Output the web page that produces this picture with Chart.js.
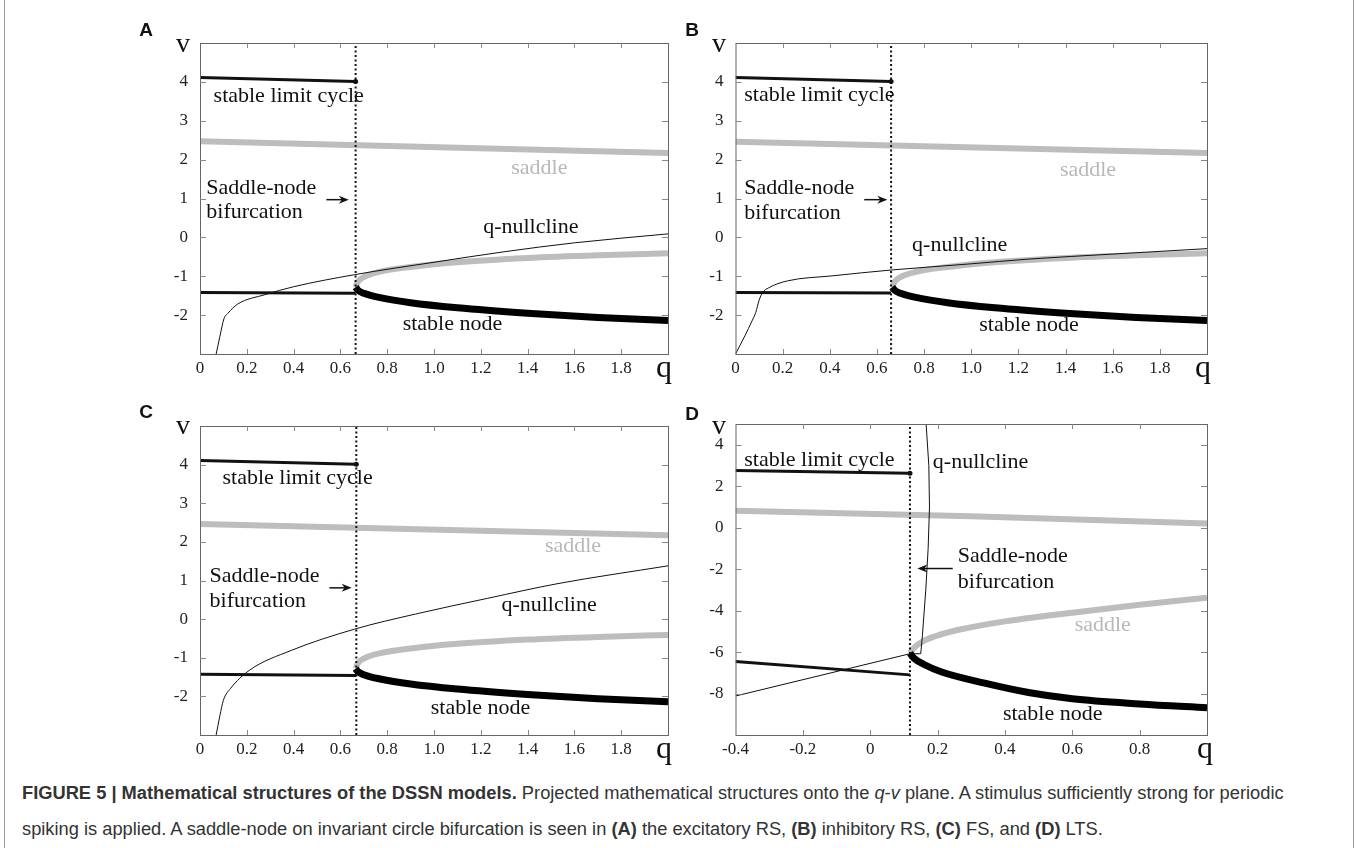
<!DOCTYPE html>
<html>
<head>
<meta charset="utf-8">
<script src="https://cdn.jsdelivr.net/npm/chart.js@4.4.1/dist/chart.umd.min.js"></script>
<style>
  body { margin: 0; background: #fff; width: 1357px; height: 848px; position: relative; overflow: hidden; }
  canvas { position: absolute; }
  .lbl { position: absolute; transform: translate(-50%, -50%); white-space: nowrap; color: #111; }
  .panel { font-family: "Liberation Sans", Arial, sans-serif; font-weight: bold; font-size: 19px; }
  .axv { font-family: "Liberation Serif", serif; font-size: 28px; }
  .axq { font-family: "Liberation Serif", serif; font-size: 32px; }
  .frame { position: absolute; top: 0; bottom: 0; width: 0; border-left: 1px solid #9a9a9a; }
  #caption { position: absolute; left: 22px; top: 775px; width: 1330px;
    font-family: "Liberation Sans", Arial, sans-serif; font-size: 18.3px;
    line-height: 36px; color: #333; white-space: nowrap; }
</style>
</head>
<body>
<div class="frame" style="left:4px"></div>
<div class="frame" style="left:1353px"></div>

<canvas id="chartA" width="560" height="360" style="left:130px;top:20px"></canvas>
<canvas id="chartB" width="560" height="360" style="left:680px;top:20px"></canvas>
<canvas id="chartC" width="560" height="360" style="left:130px;top:400px"></canvas>
<canvas id="chartD" width="560" height="360" style="left:680px;top:400px"></canvas>

<div class="lbl panel" style="left:146px;top:30px">A</div>
<div class="lbl panel" style="left:692px;top:30px">B</div>
<div class="lbl panel" style="left:146px;top:412px">C</div>
<div class="lbl panel" style="left:692px;top:414px">D</div>
<div class="lbl axv" style="left:183px;top:43px">v</div>
<div class="lbl axv" style="left:719px;top:43px">v</div>
<div class="lbl axv" style="left:183px;top:425px">v</div>
<div class="lbl axv" style="left:719px;top:425px">v</div>
<div class="lbl axq" style="left:664px;top:366px">q</div>
<div class="lbl axq" style="left:1203px;top:366px">q</div>
<div class="lbl axq" style="left:664px;top:747px">q</div>
<div class="lbl axq" style="left:1205px;top:747px">q</div>

<div id="caption"><b>FIGURE 5 | Mathematical structures of the DSSN models.</b> Projected mathematical structures onto the <i>q</i>-<i>v</i> plane. A stimulus sufficiently strong for periodic<br>spiking is applied. A saddle-node on invariant circle bifurcation is seen in <b>(A)</b> the excitatory RS, <b>(B)</b> inhibitory RS, <b>(C)</b> FS, and <b>(D)</b> LTS.</div>

<script>
// ---- data: [q, v] pairs ----

// branches that look the same in A, B and C
const branchSaddle = [[0.665, -1.28], [0.675, -1.14], [0.7, -1.02], [0.77, -0.88], [0.9, -0.76], [1.1, -0.64], [1.4, -0.53], [1.7, -0.46], [2.0, -0.41]];
const branchNode = [[0.665, -1.28], [0.675, -1.36], [0.7, -1.44], [0.77, -1.55], [0.9, -1.68], [1.1, -1.81], [1.4, -1.95], [1.7, -2.06], [2.0, -2.14]];

// panel A (excitatory RS)
const aCycle = [[0, 4.11], [0.665, 4.01]];
const aSaddleTop = [[0, 2.47], [2.0, 2.17]];
const aRest = [[0, -1.42], [0.665, -1.44]];
const aNull = [[0.069, -3], [0.085, -2.55], [0.102, -2.1], [0.12, -1.95], [0.16, -1.72], [0.28, -1.47], [0.4, -1.27], [0.66, -0.96], [1.0, -0.64], [1.3, -0.37], [1.6, -0.14], [2.0, 0.09]];

// panel B (inhibitory RS)
const bCycle = [[0, 4.11], [0.66, 4.01]];
const bSaddleTop = [[0, 2.46], [2.0, 2.17]];
const bRest = [[0, -1.42], [0.66, -1.43]];
const bNull = [[0, -3], [0.04, -2.53], [0.07, -2.15], [0.086, -1.93], [0.1, -1.62], [0.115, -1.42], [0.14, -1.3], [0.22, -1.12], [0.41, -0.99], [0.66, -0.84], [1.0, -0.68], [1.24, -0.56], [1.6, -0.43], [2.0, -0.29]];

// panel C (FS)
const cCycle = [[0, 4.11], [0.668, 4.01]];
const cSaddleTop = [[0, 2.46], [2.0, 2.17]];
const cRest = [[0, -1.43], [0.668, -1.46]];
const cNull = [[0.069, -3], [0.085, -2.5], [0.1, -2.1], [0.13, -1.8], [0.21, -1.33], [0.39, -0.81], [0.66, -0.26], [0.92, 0.13], [1.23, 0.54], [1.53, 0.92], [2.0, 1.38]];

// panel D (LTS)
const dCycle = [[-0.4, 2.76], [0.118, 2.63]];
const dSaddleTop = [[-0.4, 0.82], [0.3, 0.55], [1.0, 0.2]];
const dRest = [[-0.4, -6.45], [0.118, -7.1]];
const dSaddleLow = [[0.118, -6.05], [0.13, -5.8], [0.16, -5.45], [0.21, -5.15], [0.27, -4.9], [0.4, -4.52], [0.6, -4.1], [0.8, -3.72], [1.0, -3.38]];
const dNode = [[0.118, -6.05], [0.13, -6.3], [0.16, -6.6], [0.21, -6.95], [0.34, -7.5], [0.47, -7.95], [0.6, -8.25], [0.8, -8.5], [1.0, -8.68]];
const dNull = [[-0.4, -8.12], [0.118, -6.08], [0.15, -6.08], [0.155, -5.2], [0.165, -3], [0.172, -1], [0.176, 1], [0.174, 3], [0.166, 5]];

// bifurcation q for each panel
const bifQ = { A: 0.665, B: 0.66, C: 0.668, D: 0.118 };

const GRAY = '#bdbdbd';
const SERIF = '"Liberation Serif", "Times New Roman", serif';

function xy(arr) {
    return arr.map(p => ({ x: p[0], y: p[1] }));
}

// draws the box, inward ticks, the text labels and the arrow
function decor(cfg) {
    return {
        id: 'decor',
        afterDatasetsDraw(chart) {
            const c = chart.ctx;
            const a = chart.chartArea;
            const xs = chart.scales.x, ys = chart.scales.y;
            c.save();
            c.strokeStyle = '#666';
            c.lineWidth = 1;
            c.strokeRect(a.left + 0.5, a.top + 0.5, a.right - a.left, a.bottom - a.top);
            c.strokeStyle = '#888';
            c.beginPath();
            xs.ticks.forEach(t => {
                if (t.value <= xs.min + 1e-9 || t.value >= xs.max - 1e-9) return;
                const px = Math.round(xs.getPixelForValue(t.value)) + 0.5;
                c.moveTo(px, a.bottom); c.lineTo(px, a.bottom - 5);
                c.moveTo(px, a.top); c.lineTo(px, a.top + 5);
            });
            ys.ticks.forEach(t => {
                if (t.value <= ys.min + 1e-9 || t.value >= ys.max - 1e-9) return;
                const py = Math.round(ys.getPixelForValue(t.value)) + 0.5;
                c.moveTo(a.left, py); c.lineTo(a.left + 6, py);
                c.moveTo(a.right, py); c.lineTo(a.right - 6, py);
            });
            c.stroke();

            c.font = '22px ' + SERIF;
            c.textBaseline = 'middle';
            c.textAlign = 'left';
            cfg.texts.forEach(t => {
                c.fillStyle = t.color || '#111';
                c.fillText(t.text, xs.getPixelForValue(t.q), ys.getPixelForValue(t.v));
            });

            // arrow
            const ar = cfg.arrow;
            const x1 = xs.getPixelForValue(ar.from), x2 = xs.getPixelForValue(ar.to);
            const y = ys.getPixelForValue(ar.v);
            const dir = x2 > x1 ? 1 : -1;
            c.strokeStyle = '#111';
            c.fillStyle = '#111';
            c.lineWidth = 1.5;
            c.beginPath();
            c.moveTo(x1, y); c.lineTo(x2 - dir * 6, y);
            c.stroke();
            c.beginPath();
            c.moveTo(x2, y);
            c.lineTo(x2 - dir * 10, y - 4);
            c.lineTo(x2 - dir * 7, y);
            c.lineTo(x2 - dir * 10, y + 4);
            c.closePath();
            c.fill();
            c.restore();
        }
    };
}

function makeChart(p) {
    const datasets = [
        { data: xy([[p.bif, p.yMin], [p.bif, p.yMax]]), borderColor: '#111', borderWidth: 2, borderDash: [2, 2.5] },
        { data: xy(p.cycle), borderColor: '#111', borderWidth: 3, pointRadius: [0, 2.5], pointBackgroundColor: '#111', pointBorderWidth: 0 },
        { data: xy(p.rest), borderColor: '#111', borderWidth: 3 },
        { data: xy(p.node), borderColor: '#000', borderWidth: 7, cubicInterpolationMode: 'monotone' },
        { data: xy(p.nullcline), borderColor: '#111', borderWidth: 1, cubicInterpolationMode: p.smoothNull ? 'monotone' : 'default', tension: 0 },
        { data: xy(p.saddleTop), borderColor: GRAY, borderWidth: 6 },
        { data: xy(p.saddleLow), borderColor: GRAY, borderWidth: 6, cubicInterpolationMode: 'monotone' },
    ];

    new Chart(document.getElementById(p.id), {
        type: 'line',
        data: { datasets },
        options: {
            responsive: false,
            animation: false,
            devicePixelRatio: 1,
            elements: { point: { radius: 0, hitRadius: 0 }, line: { fill: false } },
            layout: { padding: p.pad },
            plugins: { legend: { display: false }, tooltip: { enabled: false } },
            scales: {
                x: {
                    type: 'linear', min: p.xMin, max: p.xMax,
                    grid: { display: false, drawTicks: false },
                    border: { display: false },
                    afterFit(s) { s.height = 20; },
                    ticks: {
                        stepSize: p.xStep, padding: 4, color: '#222', autoSkip: false, maxRotation: 0,
                        font: { family: SERIF, size: 17 },
                        callback(v) {
                            if (v >= p.xMax - 1e-9) return '';
                            if (Math.abs(v) < 1e-9) return '0';
                            return v.toFixed(1);
                        }
                    }
                },
                y: {
                    type: 'linear', min: p.yMin, max: p.yMax,
                    grid: { display: false, drawTicks: false },
                    border: { display: false },
                    afterFit(s) { s.width = 40; },
                    ticks: {
                        stepSize: p.yStep, padding: 12, color: '#222', autoSkip: false,
                        font: { family: SERIF, size: 17 },
                        callback(v) {
                            if (v <= p.yMin + 1e-9 || v >= p.yMax - 1e-9) return '';
                            return String(Math.round(v));
                        }
                    }
                }
            }
        },
        plugins: [decor(p)]
    });
}

makeChart({
    id: 'chartA', xMin: 0, xMax: 2, xStep: 0.2, yMin: -3, yMax: 5, yStep: 1,
    pad: { left: 30, top: 23, right: 22, bottom: 6 },
    bif: bifQ.A, cycle: aCycle, rest: aRest, saddleTop: aSaddleTop,
    saddleLow: branchSaddle, node: branchNode, nullcline: aNull, smoothNull: true,
    texts: [
        { text: 'stable limit cycle', q: 0.058, v: 3.63 },
        { text: 'saddle', q: 1.33, v: 1.77, color: '#b8b8b8' },
        { text: 'Saddle-node', q: 0.027, v: 1.27 },
        { text: 'bifurcation', q: 0.027, v: 0.65 },
        { text: 'q-nullcline', q: 1.21, v: 0.25 },
        { text: 'stable node', q: 0.866, v: -2.23 }
    ],
    arrow: { from: 0.54, to: 0.636, v: 0.97 }
});

makeChart({
    id: 'chartB', xMin: 0, xMax: 2, xStep: 0.2, yMin: -3, yMax: 5, yStep: 1,
    pad: { left: 15.5, top: 23, right: 33, bottom: 6 },
    bif: bifQ.B, cycle: bCycle, rest: bRest, saddleTop: bSaddleTop,
    saddleLow: branchSaddle, node: branchNode, nullcline: bNull, smoothNull: true,
    texts: [
        { text: 'stable limit cycle', q: 0.037, v: 3.66 },
        { text: 'saddle', q: 1.376, v: 1.72, color: '#b8b8b8' },
        { text: 'Saddle-node', q: 0.037, v: 1.27 },
        { text: 'bifurcation', q: 0.037, v: 0.63 },
        { text: 'q-nullcline', q: 0.749, v: -0.2 },
        { text: 'stable node', q: 1.034, v: -2.27 }
    ],
    arrow: { from: 0.546, to: 0.644, v: 0.97 }
});

makeChart({
    id: 'chartC', xMin: 0, xMax: 2, xStep: 0.2, yMin: -3, yMax: 5, yStep: 1,
    pad: { left: 30, top: 26, right: 22, bottom: 5 },
    bif: bifQ.C, cycle: cCycle, rest: cRest, saddleTop: cSaddleTop,
    saddleLow: branchSaddle, node: branchNode, nullcline: cNull, smoothNull: true,
    texts: [
        { text: 'stable limit cycle', q: 0.096, v: 3.64 },
        { text: 'saddle', q: 1.474, v: 1.9, color: '#b8b8b8' },
        { text: 'Saddle-node', q: 0.041, v: 1.11 },
        { text: 'bifurcation', q: 0.041, v: 0.47 },
        { text: 'q-nullcline', q: 1.288, v: 0.36 },
        { text: 'stable node', q: 0.986, v: -2.3 }
    ],
    arrow: { from: 0.553, to: 0.648, v: 0.81 }
});

makeChart({
    id: 'chartD', xMin: -0.4, xMax: 1.0, xStep: 0.2, yMin: -10, yMax: 5, yStep: 2,
    pad: { left: 15.5, top: 24, right: 33, bottom: 5 },
    bif: bifQ.D, cycle: dCycle, rest: dRest, saddleTop: dSaddleTop,
    saddleLow: dSaddleLow, node: dNode, nullcline: dNull, smoothNull: false,
    texts: [
        { text: 'stable limit cycle', q: -0.374, v: 3.27 },
        { text: 'q-nullcline', q: 0.186, v: 3.15 },
        { text: 'Saddle-node', q: 0.26, v: -1.4 },
        { text: 'bifurcation', q: 0.26, v: -2.61 },
        { text: 'saddle', q: 0.607, v: -4.71, color: '#b8b8b8' },
        { text: 'stable node', q: 0.394, v: -8.98 }
    ],
    arrow: { from: 0.245, to: 0.14, v: -1.97 }
});
</script>
</body>
</html>
